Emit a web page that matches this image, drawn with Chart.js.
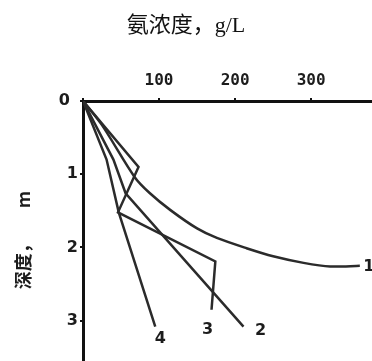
<!DOCTYPE html>
<html>
<head>
<meta charset="utf-8">
<script src="https://cdn.jsdelivr.net/npm/chart.js@4"></script>
<style>
  body { margin: 0; background: #fff; }
  canvas { display: block; }
</style>
</head>
<body>
<canvas id="ammonia-depth" width="372" height="361"></canvas>
<script>
// values: ammonia concentration (g/L) vs depth (m)
var lineNames = ['1', '2', '3', '4'];

var line1Conc = [0, 25, 68, 88, 115, 150, 176, 215, 250, 290, 325, 364];
var line1Depth = [0, 0.33, 1.04, 1.26, 1.49, 1.74, 1.87, 2.01, 2.12, 2.21, 2.26, 2.25];

var line2Conc = [0, 40, 56, 211];
var line2Depth = [0, 0.80, 1.26, 3.08];

var line3Conc = [0, 73, 46, 174, 169];
var line3Depth = [0, 0.90, 1.52, 2.19, 2.85];

var line4Conc = [0, 31, 47, 95];
var line4Depth = [0, 0.80, 1.52, 3.08];

var concTicks = [0, 100, 200, 300];
var depthTicks = [0, 1, 2, 3];

function toPoints(xs, ys) {
    var pts = [];
    for (var i = 0; i < xs.length; i++) pts.push({ x: xs[i], y: ys[i] });
    return pts;
}

// where each curve number sits relative to the curve's last point (px)
var labelOffsets = [[9, 1], [17, 4], [-4, 20], [5, 12]];

var curveLabels = {
    id: 'curveLabels',
    afterDatasetsDraw: function(chart) {
        var ctx = chart.ctx;
        var xs = chart.scales.x, ys = chart.scales.y;
        ctx.save();
        ctx.font = 'bold 16px "DejaVu Sans"';
        ctx.fillStyle = '#1c1c1c';
        ctx.textAlign = 'center';
        ctx.textBaseline = 'middle';
        chart.data.datasets.forEach(function(ds, i) {
            var last = ds.data[ds.data.length - 1];
            ctx.fillText(ds.label,
                xs.getPixelForValue(last.x) + labelOffsets[i][0],
                ys.getPixelForValue(last.y) + labelOffsets[i][1]);
        });
        ctx.restore();
    }
};

var series = [
    [line1Conc, line1Depth, 0.3],
    [line2Conc, line2Depth, 0],
    [line3Conc, line3Depth, 0],
    [line4Conc, line4Depth, 0]
];

var datasets = series.map(function(s, i) {
    return {
        label: lineNames[i],
        data: toPoints(s[0], s[1]),
        borderColor: '#2b2b2b',
        borderWidth: 2.5,
        pointRadius: 0,
        tension: s[2],
        fill: false
    };
});

var canvas = document.getElementById('ammonia-depth');
var ctx = canvas.getContext('2d');

var depthChart = new Chart(ctx, {
    type: 'line',
    data: { datasets: datasets },
    plugins: [curveLabels],
    options: {
        responsive: false,
        devicePixelRatio: 1,
        animation: false,
        layout: { padding: 0 },
        plugins: {
            legend: { display: false },
            tooltip: { enabled: false },
            title: {
                display: true,
                text: '氨浓度，g/L',
                color: '#111',
                font: { family: '"Liberation Serif", "Noto Sans CJK SC"', size: 22, weight: 'normal', lineHeight: 1.2 },
                padding: { top: 13, bottom: 0 }
            }
        },
        scales: {
            x: {
                type: 'linear',
                position: 'top',
                min: 0,
                max: 380,
                afterBuildTicks: function(scale) {
                    scale.ticks = concTicks.map(function(v) { return { value: v }; });
                },
                afterFit: function(scale) {
                    scale.height = 61.6;
                    scale.paddingLeft = 0;
                    scale.paddingRight = 0;
                },
                ticks: {
                    color: '#1c1c1c',
                    padding: 8,
                    font: { family: '"DejaVu Sans Mono"', size: 16, weight: 'bold' },
                    callback: function(v) { return v === 0 ? '' : v; }
                },
                grid: { drawOnChartArea: false, tickLength: 3, color: '#111', lineWidth: 2 },
                border: { display: true, color: '#111', width: 3 }
            },
            y: {
                type: 'linear',
                reverse: true,
                min: 0,
                max: 3.55,
                afterBuildTicks: function(scale) {
                    scale.ticks = depthTicks.map(function(v) { return { value: v }; });
                },
                afterFit: function(scale) {
                    scale.width = 83;
                    scale.paddingTop = 0;
                    scale.paddingBottom = 0;
                },
                ticks: {
                    color: '#1c1c1c',
                    padding: 2,
                    font: { family: '"DejaVu Sans"', size: 16, weight: 'bold' },
                    callback: function(v) { return v === 0 ? '0\u2002' : v; }
                },
                grid: { drawOnChartArea: false, tickLength: 3, color: '#111', lineWidth: 2 },
                border: { display: true, color: '#111', width: 3 },
                title: {
                    display: true,
                    text: '深度，\u3000\u3000m\u3000',
                    color: '#1c1c1c',
                    font: { family: '"Noto Sans CJK SC"', size: 18, weight: 'bold', lineHeight: 1.2 },
                    padding: { top: 12, bottom: 0 }
                }
            }
        }
    }
});
</script>
</body>
</html>
